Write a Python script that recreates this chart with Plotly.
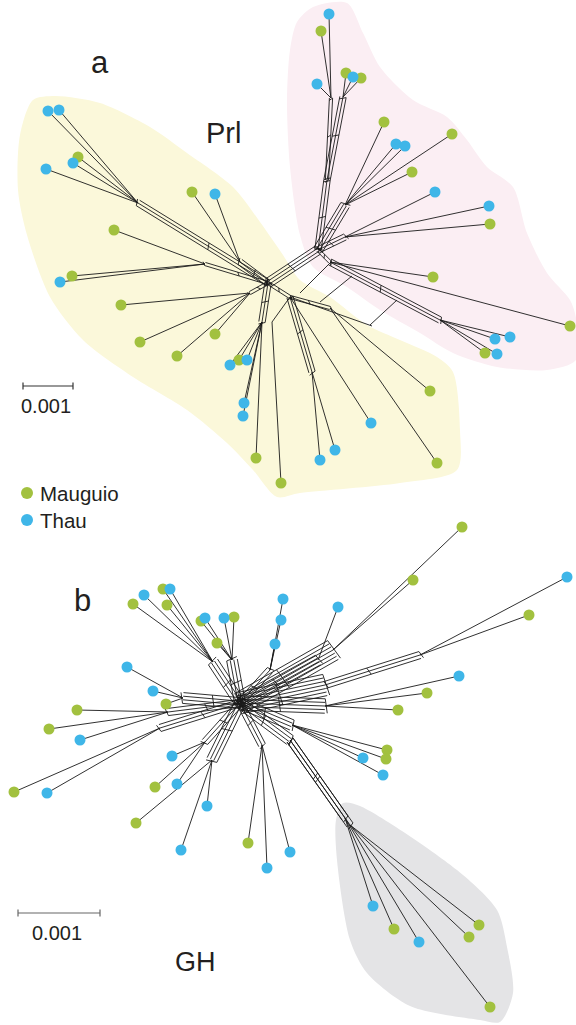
import numpy as np
import plotly.graph_objects as go

# ---------------- DATA ----------------
# Panel a: tip positions (layout units) and sampling site
a_tip_x = [329, 321, 346, 353, 361, 317, 384, 452, 396, 405, 412, 435, 489, 490, 433, 570, 510, 495, 485, 497,
           48, 59, 78, 73, 46, 114, 72, 60, 192, 215, 121, 140, 177, 215, 230, 239, 247, 244, 243, 256, 281,
           320, 335, 371, 430, 437]
a_tip_y = [14, 31, 73, 77, 78, 84, 122, 134, 144, 146, 172, 192, 206, 224, 277, 326, 337, 339, 353, 354,
           111, 110, 157, 163, 169, 230, 276, 282, 192, 194, 305, 342, 356, 334, 365, 360, 360, 403, 416, 458, 483,
           460, 450, 423, 391, 463]
a_tip_site = ["T", "M", "M", "T", "M", "T", "M", "M", "T", "T", "M", "T", "T", "M", "M", "M", "T", "T", "M", "T",
              "T", "T", "M", "T", "T", "M", "M", "T", "M", "T", "M", "M", "M", "M", "T", "M", "T", "T", "T", "M", "M",
              "T", "T", "T", "M", "M"]
a_tip_parent = ["Pt1", "Pt1", "Pt2", "Pt2", "Pt2", "Pt1", "Pf1", "Pf1", "Pf1", "Pf1", "Pf1", "Pf2", "Pf2", "Pf2",
                "Pl", "Pl", "Plr", "Plr", "Plr", "Plr",
                "Yul", "Yul", "Yul", "Yul", "Yul", "Ym", "Ym", "Ym", "Yu", "Yu", "Yl", "Yl", "Yl", "Yl",
                "Yd", "Yd", "Yd", "Yd", "Yd", "Yd", "Yd2", "Yr", "Yr", "YB", "Yrr", "Yrr"]
a_node_name = ["YA", "YB", "Yul", "Ym", "Yu", "Yl", "Yd", "Yd2", "Yr", "Yrr",
               "PA", "Pt1", "Pt2", "Pmid", "Pf1", "Pf2", "Pl", "Plr"]
a_node_x = [268, 290, 138, 205, 240, 250, 262, 272, 312, 330, 318, 331, 343, 327, 345, 345, 330, 440]
a_node_y = [283, 297, 203, 264, 262, 293, 322, 322, 372, 308, 250, 98, 97, 180, 205, 237, 262, 320]
# internal splits: (from, to, number of parallel splits)
a_split_from = ["YA", "YA", "YA", "YA", "YA", "YA", "YA", "YB", "YB", "YB", "PA", "Pt1", "Pt2", "PA", "PA", "PA", "Pl"]
a_split_to   = ["PA", "YB", "Yul", "Ym", "Yu", "Yl", "Yd", "Yr", "Yd2", "Yrr", "Pmid", "Pmid", "Pmid", "Pf1", "Pf2", "Pl", "Plr"]
a_split_n    = [4, 2, 3, 2, 3, 2, 3, 3, 1, 2, 3, 2, 3, 4, 3, 2, 3]
# extra rungs linking the lower-right yellow trunk to the lower pink branch
a_rung_x0 = [300, 320, 370]
a_rung_y0 = [293, 302, 325]
a_rung_x1 = [330, 352, 397]
a_rung_y1 = [263, 276, 300]
a_trunk_x = [290, 372]
a_trunk_y = [297, 326]

# Panel b
b_tip_x = [144, 163, 170, 133, 167, 201, 205, 224, 234, 217, 283, 281, 275, 338, 462, 413, 567, 529,
           459, 427, 398, 387, 386, 363, 383, 373, 394, 419, 479, 469, 490, 248, 290, 267,
           181, 207, 136, 155, 177, 172, 14, 47, 77, 49, 80, 127, 153, 166]
b_tip_y = [595, 589, 589, 604, 605, 621, 618, 618, 617, 643, 599, 620, 644, 607, 527, 580, 577, 615,
           676, 693, 710, 750, 759, 758, 775, 906, 929, 942, 925, 937, 1007, 843, 852, 868,
           850, 806, 823, 787, 784, 756, 792, 793, 710, 729, 740, 667, 691, 704]
b_tip_site = ["T", "M", "T", "M", "M", "M", "T", "T", "M", "M", "T", "T", "T", "T", "M", "M", "T", "M",
              "T", "M", "M", "M", "M", "T", "T", "T", "M", "T", "M", "M", "M", "M", "T", "T",
              "T", "T", "M", "M", "T", "T", "M", "T", "M", "M", "T", "T", "T", "M"]
b_tip_parent = ["Btl", "Btl", "Btl", "Btl", "Btl", "Btm", "Btm", "Btm", "Btm", "Btm", "Btr", "Btr", "Btr",
                "Br1", "Br2", "Br2", "Br3b", "Br3b", "Br4", "Br4", "Br4", "Br5", "Br5", "Br5", "Br5",
                "Bgh", "Bgh", "Bgh", "Bgh2", "Bgh2", "Bgh2", "Bbot", "Bbot", "Bbot",
                "Bbl", "Bbl", "Bbl", "Bbl2", "Bbl2", "Bbl2", "Bl1", "Bl1", "Bl2", "Bl2", "Bl2", "Bl3", "Bl3", "Bl3"]
b_node_name = ["HB", "Btl", "Btm", "Btr", "Br1", "Br2", "Br3", "Br3b", "Br4", "Br5", "Bgh0", "Bgh", "Bgh2",
               "Bbot", "Bbl", "Bbl2", "Bl1", "Bl2", "Bl3"]
b_node_x = [240, 213, 232, 270, 318, 333, 325, 420, 325, 292, 290, 345, 350, 262, 212, 205, 160, 168, 183]
b_node_y = [703, 662, 660, 670, 660, 650, 685, 655, 706, 725, 740, 818, 825, 745, 760, 742, 728, 712, 698]
b_split_from = ["HB", "HB", "HB", "HB", "HB", "HB", "Br3", "HB", "HB", "HB", "Bgh0", "Bgh0", "HB", "HB", "HB", "HB", "HB", "HB"]
b_split_to   = ["Btl", "Btm", "Btr", "Br1", "Br2", "Br3", "Br3b", "Br4", "Br5", "Bgh0", "Bgh", "Bgh2", "Bbot", "Bbl", "Bbl2", "Bl1", "Bl2", "Bl3"]
b_split_n    = [4, 4, 3, 4, 7, 7, 3, 5, 4, 4, 3, 3, 3, 4, 3, 3, 3, 4]

# shaded clusters
prl_x = [33, 55, 100, 150, 187, 233, 260, 283, 300, 330, 367, 400, 437, 453, 460, 457, 400, 300, 277, 253, 227, 187,
         133, 83, 50, 27, 18, 20]
prl_y = [100, 96, 103, 127, 153, 187, 222, 255, 280, 297, 325, 340, 357, 372, 430, 470, 483, 493, 497, 470, 443, 410,
         377, 340, 297, 235, 190, 135]
pink_x = [297, 313, 347, 363, 380, 413, 447, 467, 487, 513, 527, 547, 570, 576, 576, 547, 497, 453, 420, 380, 347,
          313, 300, 290, 287, 290]
pink_y = [22, 7, 3, 33, 67, 100, 117, 140, 167, 187, 233, 273, 300, 318, 360, 370, 367, 353, 333, 310, 287, 267,
          235, 167, 100, 50]
gh_x = [343, 360, 457, 497, 507, 513, 500, 480, 410, 367, 350, 337, 336]
gh_y = [803, 806, 870, 910, 947, 993, 1022, 1020, 1006, 973, 940, 860, 820]

site_names = {"M": "Mauguio", "T": "Thau"}
site_colors = {"M": "#a2c13f", "T": "#3fb6e8"}

# ---------------- BUILD ----------------
fig = go.Figure()

for px, py, col in [(prl_x, prl_y, "#fbf8da"), (pink_x, pink_y, "#fbeef3"), (gh_x, gh_y, "#e4e4e6")]:
    fig.add_trace(go.Scatter(x=px + [px[0]], y=py + [py[0]], mode="lines", fill="toself", fillcolor=col,
                             line=dict(width=0, color=col, shape="spline", smoothing=0.8),
                             hoverinfo="skip", showlegend=False))


def network_lines(tx, ty, tparent, nname, nx, ny, sf, st, sn, gap):
    pos = {n: np.array([x, y], float) for n, x, y in zip(nname, nx, ny)}
    xs, ys = [], []

    def seg(p, q):
        xs.extend([p[0], q[0], None])
        ys.extend([p[1], q[1], None])

    for x, y, par in zip(tx, ty, tparent):
        seg(np.array([x, y], float), pos[par])
    for f, t, n in zip(sf, st, sn):
        p, q = pos[f], pos[t]
        d = q - p
        u = d / np.linalg.norm(d)
        v = np.array([-u[1], u[0]])
        offs = [(k - (n - 1) / 2) * gap for k in range(n)]
        for o in offs:
            seg(p + o * v, q + o * v)
        if n > 1:
            for frac in (0.0, 0.45, 1.0):
                c = p + frac * d
                seg(c + offs[0] * v, c + offs[-1] * v + 2.5 * u)
    return xs, ys


ax, ay = network_lines(a_tip_x, a_tip_y, a_tip_parent, a_node_name, a_node_x, a_node_y,
                       a_split_from, a_split_to, a_split_n, 3.2)
for x0, y0, x1, y1 in zip(a_rung_x0, a_rung_y0, a_rung_x1, a_rung_y1):
    ax.extend([x0, x1, None])
    ay.extend([y0, y1, None])
ax.extend(a_trunk_x + [None])
ay.extend(a_trunk_y + [None])
bx, by = network_lines(b_tip_x, b_tip_y, b_tip_parent, b_node_name, b_node_x, b_node_y,
                       b_split_from, b_split_to, b_split_n, 3.6)

fig.add_trace(go.Scatter(x=ax + bx, y=ay + by, mode="lines", line=dict(color="#1a1a1a", width=0.9),
                         hoverinfo="skip", showlegend=False))

for s in ["M", "T"]:
    xs = [x for x, k in zip(a_tip_x + b_tip_x, a_tip_site + b_tip_site) if k == s]
    ys = [y for y, k in zip(a_tip_y + b_tip_y, a_tip_site + b_tip_site) if k == s]
    fig.add_trace(go.Scatter(x=xs, y=ys, mode="markers", name=site_names[s],
                             marker=dict(size=11, color=site_colors[s], line=dict(width=0)),
                             showlegend=False))

# legend (manual)
for s, yy in [("M", 493), ("T", 520)]:
    fig.add_trace(go.Scatter(x=[27], y=[yy], mode="markers", marker=dict(size=12, color=site_colors[s]),
                             hoverinfo="skip", showlegend=False))
    fig.add_annotation(x=38, y=yy, text=site_names[s], showarrow=False, xanchor="left", yanchor="middle",
                       font=dict(size=20.5, color="#231f20"))

FONT = "Liberation Sans, Arial, Helvetica, sans-serif"
for txt, x, y, sz in [("a", 100, 62, 31), ("Prl", 223, 133, 29), ("b", 82, 600, 31), ("GH", 195, 962, 27)]:
    fig.add_annotation(x=x, y=y, text=txt, showarrow=False, xanchor="center", yanchor="middle",
                       font=dict(size=sz, color="#231f20"))

# scale bars
for x0, x1, y, col, tx, ty in [(23, 73, 386, "#333333", 46, 406), (18, 100, 913, "#666666", 57, 933)]:
    fig.add_shape(type="line", x0=x0, x1=x1, y0=y, y1=y, line=dict(color=col, width=1.2))
    fig.add_shape(type="line", x0=x0, x1=x0, y0=y - 3.5, y1=y + 3.5, line=dict(color=col, width=1.2))
    fig.add_shape(type="line", x0=x1, x1=x1, y0=y - 3.5, y1=y + 3.5, line=dict(color=col, width=1.2))
    fig.add_annotation(x=tx, y=ty, text="0.001", showarrow=False, xanchor="center",
                       yanchor="middle", font=dict(size=20, color="#231f20"))

fig.update_layout(width=576, height=1025, margin=dict(l=0, r=0, t=0, b=0),
                  paper_bgcolor="white", plot_bgcolor="white", font=dict(family=FONT),
                  xaxis=dict(range=[0, 576], visible=False, fixedrange=True),
                  yaxis=dict(range=[1025, 0], visible=False, fixedrange=True))
fig.write_html("out.html", config={"displayModeBar": False},
               post_script="document.body.style.margin='0px';document.body.style.overflow='hidden';")
